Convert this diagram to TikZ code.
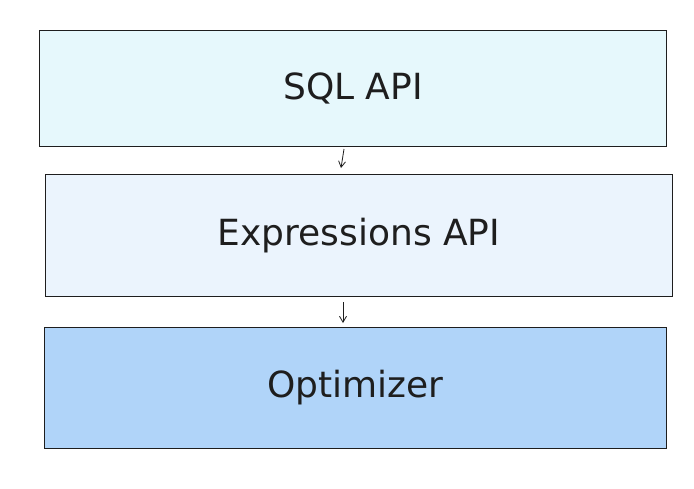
\documentclass[tikz,border=0pt]{standalone}
\usepackage{fontspec}
\setmainfont{DejaVu Sans}
\usepackage{tikz}
\usepackage{xcolor}
\usetikzlibrary{calc}
\usetikzlibrary{arrows.meta}
\definecolor{strokec}{HTML}{1E1E1E}
\definecolor{sqlfill}{HTML}{E6F8FC}
\definecolor{exprfill}{HTML}{EBF4FD}
\definecolor{optfill}{HTML}{B0D4F9}
\tikzstyle{layerbox} = [
    draw=strokec,
    line width=1pt,
    rectangle,
    anchor=north west,
    inner sep=0pt,
    font=\fontsize{36}{42}\selectfont,
    text=strokec
    ]
\tikzstyle{layerarrow} = [
    draw=strokec,
    line width=0.8pt,
    -{Straight Barb[length=6pt,width=7pt]}
    ]

\begin{document}
\begin{tikzpicture}[x=1pt,y=-1pt]
\fill[white] (0,0) rectangle (694,488);
\useasboundingbox (0,0) rectangle (694,488);
\node [layerbox, fill=sqlfill, minimum width=627pt, minimum height=116pt] (sqlbox) at (39,30) {SQL API};
\node [layerbox, fill=exprfill, minimum width=627pt, minimum height=122pt] (exprbox) at (45,174) {Expressions API};
\node [layerbox, fill=optfill, minimum width=622pt, minimum height=121pt] (optbox) at (44,327) {Optimizer};
\draw [layerarrow] ($(sqlbox.south west)+(305,2)$) -- ($(exprbox.north west)+(296,-6)$);
\draw [layerarrow] ($(exprbox.south west)+(298,5)$) -- ($(optbox.north west)+(299,-4)$);
\end{tikzpicture}
\end{document}
